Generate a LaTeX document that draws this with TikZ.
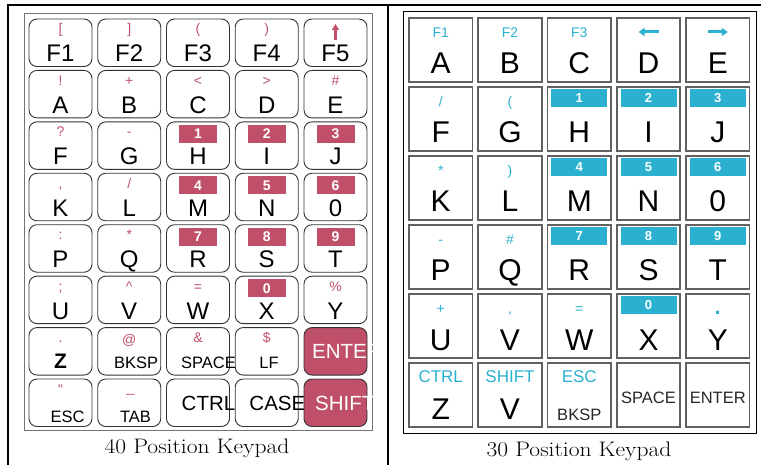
\documentclass[tikz,border=0pt]{standalone}
\usepackage{fontspec}
\usepackage{graphicx}
\newfontfamily\arial{Liberation Sans}
\usetikzlibrary{arrows.meta,calc}
\definecolor{pk}{HTML}{C0506A}
\definecolor{cy}{HTML}{2BB0D0}
\newcommand{\fs}[1]{\fontsize{#1}{#1}\selectfont}
\newcommand{\LK}[5]{%
  \pgfmathsetmacro\kx{29+68.75*#2}%
  \pgfmathsetmacro\ky{19+51.43*#3}%
  \node[lkey] (#1) at (\kx,\ky) {};
  \node[lsym] (#1s) at ($(#1.north)+(0,15)$) {#4};
  \node[lmain] (#1m) at ($(#1.north)+(0,43)$) {#5};
}
\newcommand{\LKN}[5]{%
  \pgfmathsetmacro\kx{29+68.75*#2}%
  \pgfmathsetmacro\ky{19+51.43*#3}%
  \node[lkey] (#1) at (\kx,\ky) {};
  \node[lbox] (#1b) at ($(#1.north)+(0,3)$) {#4};
  \node[lmain] (#1m) at ($(#1.north)+(0,43)$) {#5};
}
\newcommand{\RK}[5]{%
  \pgfmathsetmacro\kx{409+69.25*#2}%
  \pgfmathsetmacro\ky{18+69*#3}%
  \node[rkey] (#1) at (\kx,\ky) {};
  \node[rsym] (#1s) at ($(#1.north)+(0,20)$) {#4};
  \node[rmain] (#1m) at ($(#1.north)+(0,56)$) {#5};
}
\newcommand{\RKN}[5]{%
  \pgfmathsetmacro\kx{409+69.25*#2}%
  \pgfmathsetmacro\ky{18+69*#3}%
  \node[rkey] (#1) at (\kx,\ky) {};
  \node[rbox] (#1b) at ($(#1.north)+(0,2.3)$) {#4};
  \node[rmain] (#1m) at ($(#1.north)+(0,56)$) {#5};
}
\begin{document}
\begin{tikzpicture}[x=1pt,y=-1pt,
  lkey/.style={draw=black!80, line width=0.9pt, rounded corners=8pt, minimum width=63pt, minimum height=47.5pt, anchor=north west, inner sep=0pt, outer sep=0pt},
  lsym/.style={anchor=base, inner sep=0pt, text=pk, font=\arial\fs{14}},
  lmain/.style={anchor=base, inner sep=0pt, font=\arial\fs{24}},
  lsmall/.style={anchor=base, inner sep=0pt, font=\arial\fs{16.5}},
  lmid/.style={anchor=base west, inner sep=0pt, font=\arial\fs{20.5}},
  lbox/.style={anchor=north, fill=pk, text=white, minimum width=38pt, minimum height=18pt, inner sep=0pt, font=\arial\bfseries\fs{14}},
  rkey/.style={draw=black!62, line width=1.6pt, minimum width=63.5pt, minimum height=64pt, anchor=north west, inner sep=0pt, outer sep=0pt},
  rsym/.style={anchor=base, inner sep=0pt, text=cy, font=\arial\fs{14}},
  rmain/.style={anchor=base, inner sep=0pt, font=\arial\fs{30}},
  rsmall/.style={anchor=base, inner sep=0pt, text=black!85, font=\arial\fs{16.5}},
  rbox/.style={anchor=north, fill=cy, text=white, minimum width=56pt, minimum height=17.5pt, inner sep=0pt, font=\arial\bfseries\fs{13}},
  captext/.style={anchor=base, inner sep=0pt, font=\fs{21}\addfontfeature{FakeBold=0.6}}
]
\useasboundingbox (0,0) rectangle (761,465);
% frame
\coordinate (ftl) at (6.5,5);
\coordinate (ftr) at (761,5);
\coordinate (fbl) at (8,465);
\coordinate (fdt) at (388,5);
\coordinate (fdb) at (388,465);
\draw[line width=2.5pt] (ftl) -- (ftr);
\draw[line width=2.5pt] (8,4) -- (fbl);
\draw[line width=2.5pt] (fdt) -- (fdb);
% ---------- left keypad ----------
\draw[black!55, line width=1pt] (24,14) rectangle (372,430);
\LK{lf1}{0}{0}{[}{F1}
\LK{lf2}{1}{0}{]}{F2}
\LK{lf3}{2}{0}{(}{F3}
\LK{lf4}{3}{0}{)}{F4}
\LK{lf5}{4}{0}{}{F5}
\coordinate (upA) at ($(lf5.north)+(0,21)$);
\coordinate (upB) at ($(lf5.north)+(0,5)$);
\draw[pk, line width=2.3pt, -{Triangle[width=7pt,length=6pt]}] (upA) -- (upB);
\LK{la}{0}{1}{!}{A}
\LK{lb}{1}{1}{+}{B}
\LK{lc}{2}{1}{<}{C}
\LK{ld}{3}{1}{>}{D}
\LK{le}{4}{1}{\#}{E}
\LK{lf}{0}{2}{?}{F}
\LK{lg}{1}{2}{-}{G}
\LKN{lh}{2}{2}{1}{H}
\LKN{li}{3}{2}{2}{I}
\LKN{lj}{4}{2}{3}{J}
\LK{lk}{0}{3}{,}{K}
\LK{ll}{1}{3}{/}{L}
\LKN{lm}{2}{3}{4}{M}
\LKN{ln}{3}{3}{5}{N}
\LKN{lo}{4}{3}{6}{0}
\LK{lp}{0}{4}{:}{P}
\LK{lq}{1}{4}{*}{Q}
\LKN{lr}{2}{4}{7}{R}
\LKN{ls}{3}{4}{8}{S}
\LKN{lt}{4}{4}{9}{T}
\LK{lu}{0}{5}{;}{U}
\LK{lv}{1}{5}{\textasciicircum}{V}
\LK{lw}{2}{5}{=}{W}
\LKN{lx}{3}{5}{0}{X}
\LK{ly}{4}{5}{\%}{Y}
% row 7
\LK{lz}{0}{6}{.}{}
\node[anchor=base, inner sep=0pt, font=\arial\bfseries\fs{21}] (lzm) at ($(lz.north)+(0,41)$) {Z};
\LK{lbk}{1}{6}{}{}
\node[lsym, anchor=base] (lbks) at ($(lbk.north)+(0,17)$) {@};
\node[lsmall] (lbkm) at ($(lbk.north)+(6.8,41)$) {BKSP};
\LK{lsp}{2}{6}{\&}{}
\node[lsmall] (lspm) at ($(lsp.north)+(10.5,41)$) {SPACE};
\LK{llf}{3}{6}{\$}{}
\node[lsmall] (llfm) at ($(llf.north)+(2.3,41)$) {LF};
\node[lkey, fill=pk] (lent) at (304,327.6) {};
% row 8
\LK{lesc}{0}{7}{"}{}
\node[lsmall] (lescm) at ($(lesc.north)+(7,43)$) {ESC};
\LK{ltab}{1}{7}{}{}
\node[lsym] (ltabs) at ($(ltab.north)+(1,13)$) {\_};
\node[lsmall] (ltabm) at ($(ltab.north)+(6.3,43)$) {TAB};
\LK{lctl}{2}{7}{}{}
\node[lmid] (lctlm) at ($(lctl.north west)+(15,31)$) {CTRL};
\LK{lcas}{3}{7}{}{}
\node[lmid] (lcasm) at ($(lcas.north west)+(14,31)$) {CASE};
\node[lkey, fill=pk] (lsh) at (304,379) {};
\begin{scope}
\clip (24,14) rectangle (372,430);
\node[lmid, text=white] (lentm) at ($(lent.north west)+(8,30.5)$) {ENTER};
\node[lmid, text=white] (lshm) at ($(lsh.north west)+(11,31)$) {SHIFT};
\end{scope}
\node[captext] (cap1) at (197,453) {\scalebox{1.12}[1]{40 Position Keypad}};
% ---------- right keypad ----------
\draw[black, line width=1pt] (403,12) rectangle (756,433);
\RK{ra}{0}{0}{F1}{A}
\RK{rb}{1}{0}{F2}{B}
\RK{rc}{2}{0}{F3}{C}
\RK{rd}{3}{0}{}{D}
\RK{re}{4}{0}{}{E}
\coordinate (lfA) at ($(rd.north)+(10,14)$);
\coordinate (lfB) at ($(rd.north)+(-10,14)$);
\draw[cy, line width=3pt, -{Triangle[width=8pt,length=6pt]}] (lfA) -- (lfB);
\coordinate (rtA) at ($(re.north)+(-10,14)$);
\coordinate (rtB) at ($(re.north)+(10,14)$);
\draw[cy, line width=3pt, -{Triangle[width=8pt,length=6pt]}] (rtA) -- (rtB);
\RK{rf}{0}{1}{/}{F}
\RK{rg}{1}{1}{(}{G}
\RKN{rh}{2}{1}{1}{H}
\RKN{ri}{3}{1}{2}{I}
\RKN{rj}{4}{1}{3}{J}
\RK{rk}{0}{2}{*}{K}
\RK{rl}{1}{2}{)}{L}
\RKN{rm}{2}{2}{4}{M}
\RKN{rn}{3}{2}{5}{N}
\RKN{ro}{4}{2}{6}{0}
\RK{rp}{0}{3}{-}{P}
\RK{rq}{1}{3}{\#}{Q}
\RKN{rr}{2}{3}{7}{R}
\RKN{rs}{3}{3}{8}{S}
\RKN{rt}{4}{3}{9}{T}
\RK{ru}{0}{4}{+}{U}
\RK{rv}{1}{4}{,}{V}
\RK{rw}{2}{4}{=}{W}
\RKN{rx}{3}{4}{0}{X}
\RK{ry}{4}{4}{}{Y}
\node[rsym, font=\arial\bfseries\fs{22}] (rys) at ($(ry.north)+(0,21)$) {.};
% row 6
\RK{rz}{0}{5}{}{Z}
\node[rsym, font=\arial\fs{17}] (rzs) at ($(rz.north)+(0,19)$) {CTRL};
\RK{rv2}{1}{5}{}{V}
\node[rsym, font=\arial\fs{17}] (rv2s) at ($(rv2.north)+(0,19)$) {SHIFT};
\RK{rbk}{2}{5}{}{}
\node[rsym, font=\arial\fs{17}] (rbks) at ($(rbk.north)+(0,19)$) {ESC};
\node[rsmall] (rbkm) at ($(rbk.north)+(0,57)$) {BKSP};
\RK{rsp}{3}{5}{}{}
\node[rsmall] (rspm) at ($(rsp.north)+(0,40)$) {SPACE};
\RK{ren}{4}{5}{}{}
\node[rsmall] (renm) at ($(ren.north)+(0,40)$) {ENTER};
\node[captext] (cap2) at (579,456) {\scalebox{1.12}[1]{30 Position Keypad}};
\end{tikzpicture}
\end{document}
